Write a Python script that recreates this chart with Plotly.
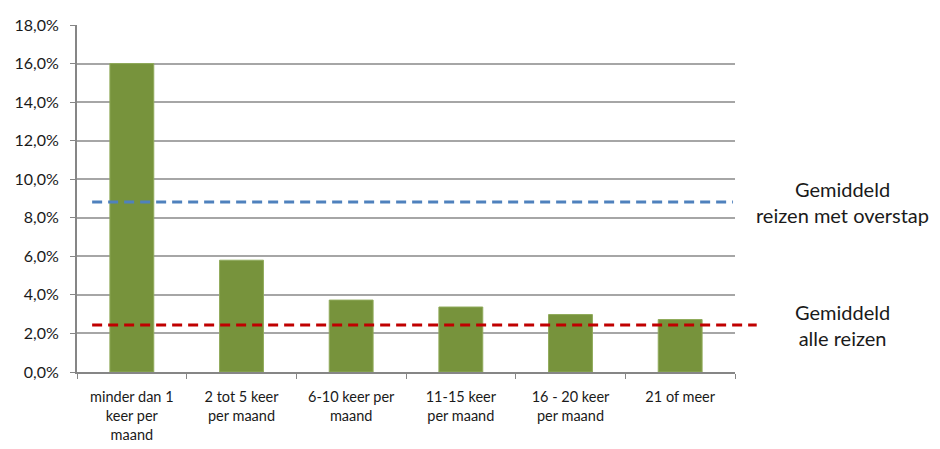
import plotly.graph_objects as go

# -------------------------------------------------
# Data
# -------------------------------------------------
categories = [
    "minder dan 1<br>keer per<br>maand",
    "2 tot 5 keer<br>per maand",
    "6-10 keer per<br>maand",
    "11-15 keer<br>per maand",
    "16 - 20 keer<br>per maand",
    "21 of meer",
]
share = [0.160, 0.058, 0.0373, 0.0337, 0.0298, 0.0272]

avg_overstap = 0.0882
avg_alle = 0.0244
avg_labels = ["Gemiddeld<br>reizen met overstap", "Gemiddeld<br>alle reizen"]

FONT = "Lato, 'Liberation Sans', sans-serif"
GRID = "#A6A6A6"
TXT = "#1a1a1a"

fig = go.Figure()

fig.add_trace(
    go.Bar(
        x=categories,
        y=share,
        marker=dict(color="#77933C", line=dict(color="#8FAA5A", width=1)),
        width=0.4,
        showlegend=False,
    )
)

# average lines (paper x so the red one can run past the plot edge)
fig.add_shape(
    type="line", xref="paper", yref="y",
    x0=0.023, x1=0.997, y0=avg_overstap, y1=avg_overstap,
    line=dict(color="#4F81BD", width=3, dash="10px,6px"),
)
fig.add_shape(
    type="line", xref="paper", yref="y",
    x0=0.023, x1=1.033, y0=avg_alle, y1=avg_alle,
    line=dict(color="#C00000", width=3, dash="10px,6px"),
)

for text, yv in zip(avg_labels, [avg_overstap, avg_alle]):
    fig.add_annotation(
        xref="paper", yref="y", x=1.163, y=yv,
        xanchor="center", yanchor="middle",
        text=text, showarrow=False, align="center",
        font=dict(family=FONT, size=20, color=TXT),
    )

# page body has an 8px margin: shrink the figure so nothing overflows
fig.update_layout(
    width=932,
    height=441,
    margin=dict(l=69, r=205, t=17, b=77),
    plot_bgcolor="white",
    paper_bgcolor="white",
    separators=",.",
    font=dict(family=FONT, size=14, color=TXT),
    bargap=0.6,
)

fig.update_xaxes(
    showline=True, linecolor="#868686", linewidth=2,
    ticks="outside", tickson="boundaries", ticklen=5, tickcolor="#868686",
    tickfont=dict(size=14.5), tickangle=0, ticklabelstandoff=11,
    showgrid=False, fixedrange=True, automargin=False,
)
fig.update_yaxes(
    range=[0, 0.18], dtick=0.02, tickformat=".1%",
    showline=True, linecolor="#868686", linewidth=2,
    ticks="outside", ticklen=5, tickcolor="#868686", ticklabelstandoff=8,
    showgrid=True, gridcolor=GRID, gridwidth=1.5,
    zeroline=False, tickfont=dict(size=16), automargin=False,
)

fig.write_html("out.html")
